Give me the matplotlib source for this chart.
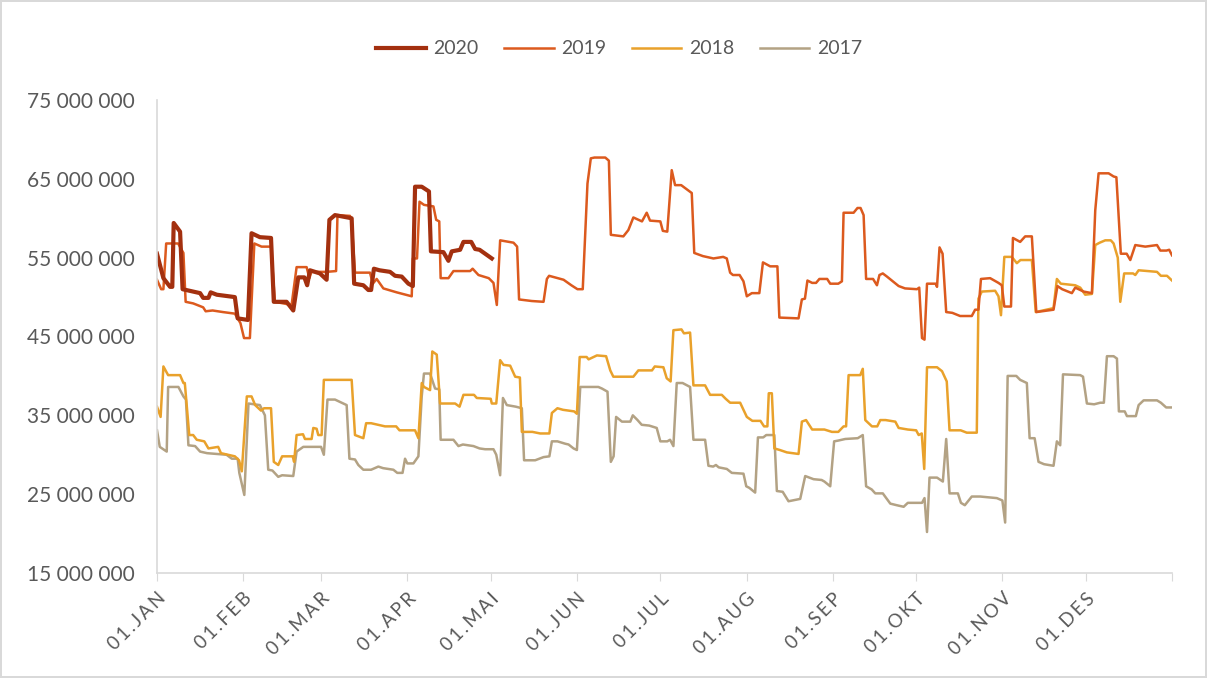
import matplotlib
matplotlib.use('Agg')
import matplotlib.pyplot as plt
from matplotlib.ticker import FuncFormatter

# (day of year, value in millions)
pts_2020 = [(0, 55.5), (2.3, 52.4), (4.7, 51.3), (5.5, 51.3), (6, 59.4), (8.3, 58.3), (9.2, 51.0),
            (15.5, 50.5), (16.6, 49.9), (18.5, 49.9), (19.3, 50.6), (21.5, 50.3), (28, 50.0), (29, 47.3),
            (32.7, 47.1), (34, 58.1), (37, 57.6), (41, 57.5), (42, 49.4), (46.6, 49.4), (49, 48.3),
            (50.8, 52.5), (53, 52.5), (54, 51.5), (55, 53.4), (58.6, 53.0), (61, 52.2), (62, 59.8),
            (64, 60.4), (70, 60.0), (70.9, 51.7), (74.2, 51.5), (76, 50.9), (77, 50.9), (78, 53.6),
            (80, 53.4), (83.8, 53.2), (85.6, 52.7), (88, 52.6), (90.4, 51.7), (92, 51.4), (92.8, 64.0),
            (95.2, 64.0), (96.5, 63.7), (97.8, 63.4), (98.5, 55.8), (103, 55.7), (104.8, 54.6),
            (106, 55.8), (109, 56.0), (110.2, 57.0), (113, 57.0), (114.4, 56.1), (116, 56.0),
            (118, 55.5), (120.4, 54.9)]

pts_2019 = [(0, 52.2), (1.5, 51.0), (2.3, 51.0), (3.3, 56.8), (7.6, 56.8), (9.5, 55.6), (10.3, 49.4),
            (13, 49.2), (16.6, 48.7), (17.5, 48.2), (20, 48.3), (23.7, 48.1), (28, 47.9), (30, 46.7),
            (31.3, 44.8), (33.4, 44.8), (35, 56.8), (37.6, 56.4), (41, 56.4), (42.4, 49.4), (48.4, 49.0),
            (50.2, 53.8), (53.8, 53.8), (54.8, 52.4), (55.5, 53.2), (61, 53.2), (64.4, 53.3), (64.9, 60.4),
            (69.4, 60.3), (70, 59.6), (71.2, 53.1), (76.6, 53.1), (77.6, 51.7), (79, 52.3), (81.4, 51.1),
            (86.2, 50.6), (91.6, 50.1), (92, 54.9), (93.5, 54.9), (94.4, 62.1), (96, 61.7), (99.4, 61.5),
            (100.4, 59.8), (101.5, 59.6), (102, 52.4), (104.8, 52.4), (106.6, 53.3), (112.6, 53.3),
            (113.5, 53.6), (115.6, 52.8), (119.3, 52.4), (121, 51.8), (122.2, 49.0), (123.4, 57.2),
            (128.2, 56.9), (129.5, 56.4), (130.2, 49.7), (134.8, 49.5), (139, 49.4), (140.2, 52.3),
            (141, 52.7), (146.2, 52.2), (149, 51.5), (151.2, 51.0), (153.1, 51.0), (154.8, 64.4),
            (156, 67.6), (157.3, 67.7), (161.2, 67.7), (162.5, 67.3), (163.2, 57.9), (167.7, 57.7),
            (169.5, 58.5), (171.3, 60.1), (174.4, 59.6), (176.1, 60.7), (177.3, 59.7), (181, 59.6),
            (181.9, 58.4), (183.5, 58.3), (185.1, 66.1), (186.3, 64.2), (188.5, 64.2), (190, 63.8),
            (192.3, 63.2), (193.2, 55.6), (196.3, 55.2), (200.1, 54.9), (203.6, 55.1), (204.9, 54.9),
            (206.1, 53.1), (207.1, 52.8), (209.5, 52.8), (210.9, 52.0), (212.1, 50.1), (213.9, 50.5),
            (216.6, 50.5), (217.9, 54.4), (220.5, 53.9), (223.1, 53.9), (223.8, 47.4), (230.7, 47.3),
            (231.9, 49.7), (233, 49.8), (233.9, 52.1), (235.6, 51.8), (237, 51.8), (238.2, 52.3),
            (241, 52.3), (242.1, 51.7), (245, 51.7), (246.3, 52.0), (246.9, 60.7), (250.5, 60.7),
            (251.9, 61.3), (253, 61.3), (254.1, 60.4), (255, 52.3), (257.5, 52.3), (258.9, 51.5),
            (259.8, 52.8), (261, 53.0), (262.5, 52.6), (266.7, 51.4), (269, 51.1), (273.3, 51.0),
            (274.1, 51.2), (275.1, 44.8), (276, 44.6), (276.9, 51.7), (280, 51.7), (280.5, 51.3),
            (281.4, 56.3), (282.5, 55.5), (283.8, 48.1), (286, 48.0), (288.8, 47.6), (293, 47.6),
            (294.2, 48.4), (295.4, 48.4), (296.3, 52.3), (299.6, 52.4), (302.6, 51.8), (303.8, 51.5),
            (304.7, 48.8), (307.1, 48.8), (307.8, 57.5), (310.4, 57.0), (312.2, 57.7), (314.6, 57.7),
            (316.2, 48.1), (322.4, 48.4), (323.8, 51.4), (325.5, 51.0), (329, 50.5), (330.2, 51.2),
            (333.2, 50.7), (336.2, 50.5), (337.4, 61.0), (338.6, 65.7), (342.2, 65.7), (344, 65.3),
            (345, 65.2), (346.6, 55.5), (348.7, 55.5), (350, 54.7), (351.8, 56.6), (355.4, 56.4),
            (359.6, 56.6), (360.8, 55.9), (363, 55.9), (364, 56.0), (365, 55.3)]

pts_2018 = [(0, 36.1), (1.3, 34.8), (2.3, 41.2), (4, 40.1), (8.3, 40.1), (9.5, 39.1), (10, 39.1),
            (11.6, 32.5), (13, 32.5), (14.3, 31.9), (17, 31.7), (18.5, 30.8), (22, 31.0), (23, 30.2),
            (28, 29.8), (29.5, 29.3), (30.5, 27.9), (32.3, 37.4), (34, 37.4), (35.3, 36.3), (37.4, 35.6),
            (38.5, 35.9), (41, 35.9), (42, 29.1), (43.6, 28.7), (45, 29.8), (48.8, 29.8), (49.3, 29.1),
            (50.2, 32.5), (52.5, 32.6), (53.2, 32.0), (55.6, 32.0), (56.2, 33.4), (57.4, 33.3),
            (58, 32.5), (59.2, 32.5), (60, 39.5), (70, 39.5), (71.2, 32.5), (74.2, 32.1), (75.2, 34.0),
            (77, 34.0), (82, 33.6), (86, 33.6), (87.2, 33.1), (92.8, 33.1), (94, 32.1), (95.2, 39.1),
            (96, 38.6), (98.2, 38.2), (99, 43.1), (100.6, 42.7), (101.8, 36.5), (107.2, 36.5),
            (108.8, 36.1), (110.2, 37.6), (114, 37.6), (115, 37.2), (120, 37.1), (120.4, 36.5),
            (122, 36.5), (123.4, 42.0), (124.6, 41.4), (127, 41.3), (128.8, 39.9), (130.5, 39.8),
            (131.2, 32.9), (135, 32.9), (137.8, 32.7), (141.1, 32.7), (142, 35.3), (144, 35.9),
            (146, 35.7), (150, 35.5), (151, 35.2), (152, 42.4), (154.5, 42.4), (155.2, 42.1),
            (158.2, 42.6), (161.5, 42.5), (163, 40.7), (164.1, 39.9), (171.3, 39.9), (173.1, 40.7),
            (178, 40.7), (179, 41.2), (182.1, 41.1), (183.3, 39.7), (184.7, 39.3), (185.7, 45.8),
            (188.6, 45.9), (189.5, 45.4), (191.7, 45.5), (192.9, 38.8), (197.1, 38.8), (198.9, 37.6),
            (203.1, 37.6), (204.5, 37.1), (206.1, 36.6), (209.7, 36.6), (212.1, 34.8), (214.1, 34.3),
            (217, 34.3), (218.3, 33.6), (219.5, 33.6), (220, 37.8), (221.1, 37.8), (222, 30.8),
            (224, 30.6), (226.5, 30.3), (230.7, 30.1), (231.9, 34.2), (233.4, 34.4), (235.6, 33.2),
            (240, 33.2), (242.7, 32.9), (245, 32.9), (246.9, 33.6), (247.8, 33.6), (248.7, 40.1),
            (252.9, 40.1), (253.8, 40.9), (254.7, 34.4), (257.1, 33.6), (259, 33.6), (260.1, 34.4),
            (262, 34.4), (265.5, 34.2), (266.7, 33.4), (270, 33.2), (273, 33.1), (273.9, 32.5),
            (275, 32.7), (275.9, 28.2), (276.9, 41.1), (280.5, 41.1), (282.3, 40.6), (284, 39.3),
            (285, 33.1), (289, 33.1), (291.2, 32.8), (294.8, 32.8), (295.4, 49.8), (296.6, 50.7),
            (301.4, 50.8), (302.6, 50.1), (303.5, 47.7), (304.7, 55.1), (307.4, 55.1), (309.2, 54.3),
            (310.5, 54.7), (314.6, 54.7), (316, 48.1), (322.4, 48.6), (323.6, 52.3), (325, 51.7),
            (330.2, 51.5), (332, 51.2), (333.8, 50.3), (336.2, 50.4), (337.4, 56.6), (339, 56.9),
            (341, 57.2), (343, 57.2), (344, 56.8), (345.5, 55.0), (346.4, 49.4), (347.8, 53.0),
            (351, 53.0), (351.8, 52.8), (353, 53.4), (359.6, 53.2), (361, 52.7), (363.2, 52.7),
            (365, 52.1)]

pts_2017 = [(0, 33.1), (1, 31.0), (3.5, 30.4), (4, 38.6), (7.7, 38.6), (9.5, 37.4), (10.4, 37.0),
            (11.3, 31.2), (13.7, 31.1), (15.5, 30.4), (18, 30.2), (25, 30.0), (26.9, 29.5), (29, 29.5),
            (29.6, 27.7), (31.4, 24.9), (32.9, 36.5), (37, 36.3), (38.8, 35.0), (40, 28.1), (41.5, 28.0),
            (43.6, 27.2), (45, 27.4), (49, 27.3), (50.2, 30.4), (52.6, 31.0), (59, 31.0), (60, 30.0),
            (61.3, 37.0), (64, 37.0), (68.2, 36.3), (69.2, 29.5), (71.2, 29.4), (72.4, 28.7),
            (74.2, 28.1), (77, 28.1), (79.6, 28.5), (81.3, 28.3), (85, 28.1), (86.4, 27.7), (88.3, 27.7),
            (89.2, 29.5), (90, 28.9), (92.2, 28.9), (94, 29.8), (95.2, 37.4), (96, 40.3), (98.2, 40.3),
            (100, 38.4), (101.5, 38.3), (102, 31.9), (106.6, 31.9), (108.4, 31.1), (110, 31.3),
            (113.8, 31.1), (116, 30.8), (118, 30.7), (121, 30.7), (122, 30.0), (123.4, 27.4),
            (124.4, 37.2), (125.8, 36.3), (129, 36.1), (131.2, 35.9), (132, 29.3), (136, 29.3),
            (139, 29.7), (141.1, 29.8), (142, 31.7), (144, 31.7), (146.8, 31.4), (148, 31.3),
            (149.8, 30.8), (151, 30.6), (152.2, 38.6), (158.7, 38.6), (160, 38.4), (162, 38.0),
            (163.2, 29.1), (164.2, 29.8), (165.1, 34.8), (167.2, 34.2), (170.2, 34.2), (171.1, 35.0),
            (172.8, 34.4), (174.3, 33.8), (177, 33.7), (179.7, 33.4), (181, 31.7), (183.5, 31.7),
            (184.5, 31.9), (185.7, 31.1), (186.9, 39.1), (189, 39.1), (191.7, 38.6), (192.9, 31.9),
            (197.1, 31.9), (198.3, 28.6), (200, 28.5), (201, 28.7), (202, 28.4), (204.9, 28.2),
            (206.7, 27.7), (210.9, 27.6), (211.9, 26.0), (213, 25.8), (215.1, 25.2), (216.1, 32.2),
            (218, 32.2), (219.1, 32.5), (222, 32.5), (222.9, 25.4), (225, 25.3), (227.1, 24.1),
            (231.3, 24.4), (233.1, 27.3), (236.1, 26.9), (239, 26.8), (240, 26.6), (242.1, 26.0),
            (243.5, 31.7), (245, 31.8), (247.5, 32.0), (252, 32.1), (253.8, 32.5), (255, 26.0),
            (257, 25.6), (258.3, 25.1), (261, 25.1), (263.7, 23.8), (266, 23.6), (268.5, 23.4),
            (270, 23.9), (275.1, 23.9), (276, 24.5), (276.9, 20.2), (277.8, 27.1), (280.5, 27.1),
            (282.6, 26.6), (283.8, 32.0), (285, 25.1), (288, 25.1), (289.1, 23.9), (290.5, 23.6),
            (293, 24.7), (296, 24.7), (302, 24.5), (304, 24.2), (305, 21.4), (305.9, 40.0), (309, 40.0),
            (310.4, 39.5), (312.8, 39.1), (313.8, 32.1), (315.6, 32.1), (317, 29.1), (319, 28.8),
            (322.4, 28.6), (323.6, 31.7), (324.8, 31.2), (325.8, 40.2), (332, 40.1), (333, 39.9),
            (334.4, 36.5), (337, 36.4), (339.2, 36.6), (340.5, 36.6), (341.6, 42.5), (344, 42.5),
            (345.2, 42.2), (345.9, 35.5), (348, 35.5), (348.8, 34.9), (352, 34.9), (353, 36.3),
            (354.8, 36.9), (359.6, 36.9), (361, 36.6), (362.9, 36.0), (365, 36.0)]

month_days = [0, 31, 59, 90, 120, 151, 181, 212, 243, 273, 304, 334]
month_labels = ['01.JAN', '01.FEB', '01.MAR', '01.APR', '01.MAI', '01.JUN',
                '01.JUL', '01.AUG', '01.SEP', '01.OKT', '01.NOV', '01.DES']

series = [
    ('2017', pts_2017, '#B3A284', 1.8),
    ('2018', pts_2018, '#E9A12B', 1.8),
    ('2019', pts_2019, '#DC5A1E', 1.8),
    ('2020', pts_2020, '#A3300F', 3.0),
]

plt.rcParams['font.family'] = ['Lato', 'DejaVu Sans']
text_col = '#595959'
grid_col = '#D9D9D9'

fig = plt.figure(figsize=(12.07, 6.78), dpi=100)
fig.patch.set_edgecolor(grid_col)
fig.patch.set_linewidth(1.5)
ax = fig.add_axes([157 / 1207, 1 - 573 / 678, (1172 - 157) / 1207, (573 - 100) / 678])

handles = {}
for name, pts, col, lw in series:
    xs = [p[0] for p in pts]
    ys = [p[1] * 1e6 for p in pts]
    h, = ax.plot(xs, ys, color=col, lw=lw, solid_joinstyle='round', label=name)
    handles[name] = h

ax.set_xlim(0, 365)
ax.set_ylim(15e6, 75e6)
ax.set_yticks([15e6, 25e6, 35e6, 45e6, 55e6, 65e6, 75e6])
ax.yaxis.set_major_formatter(FuncFormatter(lambda v, p: f'{int(v):,}'.replace(',', ' ')))
# Excel draws the date labels slightly letter-spaced
spaced = ['\u2009'.join(lbl) for lbl in month_labels]
ax.set_xticks(month_days + [365])
ax.set_xticklabels(spaced + [''], rotation=45, ha='right', rotation_mode='anchor')

for s in ['top', 'right']:
    ax.spines[s].set_visible(False)
for s in ['left', 'bottom']:
    ax.spines[s].set_color(grid_col)
    ax.spines[s].set_linewidth(1.2)
ax.tick_params(axis='y', length=0, labelsize=15, labelcolor=text_col, pad=16)
ax.tick_params(axis='x', length=6, color=grid_col, labelsize=13.5, labelcolor=text_col, pad=6)

order = ['2020', '2019', '2018', '2017']
fig.legend([handles[k] for k in order], order, loc='center', bbox_to_anchor=(0.513, 0.928),
           ncol=4, frameon=False, fontsize=14, handlelength=2.55, columnspacing=1.3,
           handletextpad=0.4, labelcolor=text_col)

fig.savefig('out.png', dpi=100, edgecolor=fig.get_edgecolor())
